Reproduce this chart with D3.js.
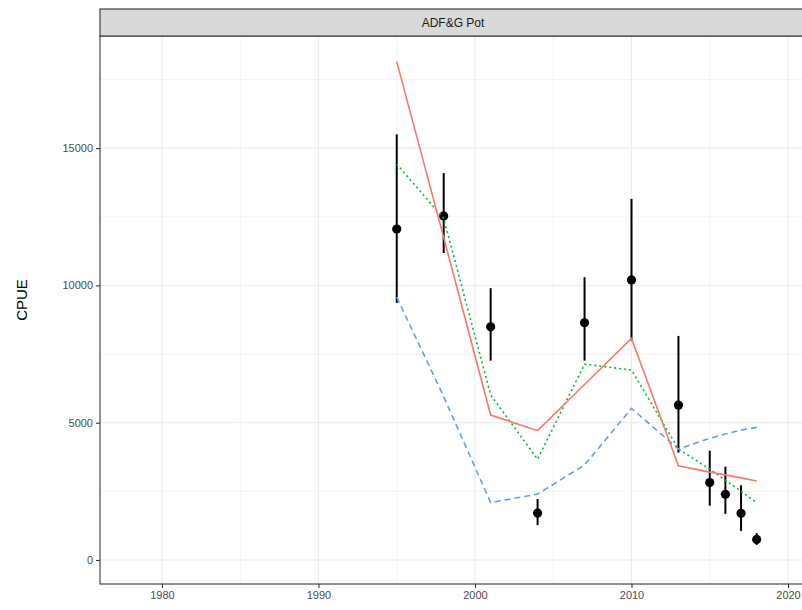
<!DOCTYPE html>
<html>
<head>
<meta charset="utf-8">
<script src="https://cdn.jsdelivr.net/npm/d3@7"></script>
<style>
body { margin: 0; background: #fff; }
svg { display: block; font-family: "Liberation Sans", Arial, sans-serif; }
</style>
</head>
<body>
<div id="chart"></div>
<script>
// values
let years = [1995, 1998, 2001, 2004, 2007, 2010, 2013, 2015, 2016, 2017, 2018];
let obs   = [12050, 12530, 8490, 1710, 8640, 10200, 5640, 2820, 2390, 1700, 750];
let obsLo = [9360, 11180, 7260, 1270, 7260, 7980, 3910, 1980, 1680, 1060, 550];
let obsHi = [15500, 14090, 9900, 2220, 10300, 13150, 8160, 3980, 3400, 2720, 980];
let fitRed   = [18150, 11750, 5280, 4710, 6390, 8070, 3430, 3200, 3100, 2990, 2880];
let fitGreen = [14420, 12440, 6010, 3670, 7130, 6920, 4040, 3310, 2900, 2500, 2090];
let fitBlue  = [9570, 5950, 2090, 2400, 3460, 5520, 4040, 4430, 4590, 4730, 4830];
let xTicks = [1980, 1990, 2000, 2010, 2020];
let xMinor = [1985, 1995, 2005, 2015];
let yTicks = [0, 5000, 10000, 15000];
let yMinor = [2500, 7500, 12500, 17500];
let stripLabel = "ADF&G Pot";

let width = 802, height = 610;
let margin = {left: 100, right: -4, top: 36, bottom: 26};
let stripTop = 9;

let svg = d3.select("#chart").append("svg")
    .attr("width", width).attr("height", height);

let x = d3.scaleLinear().domain([1976.04, 2021.15]).range([margin.left, width - margin.right]);
let y = d3.scaleLinear().domain([-874, 19082]).range([height - margin.bottom, margin.top]);

let panel = svg.append("g");
let x0 = margin.left, x1 = width - margin.right, y0 = margin.top, y1 = height - margin.bottom;

// grid
panel.selectAll(".ymin").data(yMinor).enter().append("line")
    .attr("x1", x0).attr("x2", x1).attr("y1", d => y(d)).attr("y2", d => y(d))
    .attr("stroke", "#ebebeb").attr("stroke-width", 0.6);
panel.selectAll(".xmin").data(xMinor).enter().append("line")
    .attr("y1", y0).attr("y2", y1).attr("x1", d => x(d)).attr("x2", d => x(d))
    .attr("stroke", "#ebebeb").attr("stroke-width", 0.6);
panel.selectAll(".ymaj").data(yTicks).enter().append("line")
    .attr("x1", x0).attr("x2", x1).attr("y1", d => y(d)).attr("y2", d => y(d))
    .attr("stroke", "#ebebeb").attr("stroke-width", 1.2);
panel.selectAll(".xmaj").data(xTicks).enter().append("line")
    .attr("y1", y0).attr("y2", y1).attr("x1", d => x(d)).attr("x2", d => x(d))
    .attr("stroke", "#ebebeb").attr("stroke-width", 1.2);

// error bars + points
let pts = years.map((d, i) => ({yr: d, v: obs[i], lo: obsLo[i], hi: obsHi[i]}));
panel.selectAll(".err").data(pts).enter().append("line")
    .attr("x1", d => x(d.yr)).attr("x2", d => x(d.yr))
    .attr("y1", d => y(d.lo)).attr("y2", d => y(d.hi))
    .attr("stroke", "#000").attr("stroke-width", 2);
panel.selectAll(".pt").data(pts).enter().append("circle")
    .attr("cx", d => x(d.yr)).attr("cy", d => y(d.v)).attr("r", 4.6)
    .attr("fill", "#000");

// fitted lines
let line = d3.line().x(d => x(d[0])).y(d => y(d[1]));
let series = [
    {vals: fitBlue, color: "#619CFF", dash: "6,4"},
    {vals: fitGreen, color: "#00BA38", dash: "2,3"},
    {vals: fitRed, color: "#F8766D", dash: null}
];
series.forEach(function(s){
    panel.append("path")
        .attr("d", line(years.map((yr, i) => [yr, s.vals[i]])))
        .attr("fill", "none")
        .attr("stroke", s.color)
        .attr("stroke-width", 1.6)
        .attr("stroke-dasharray", s.dash);
});

// panel border
panel.append("rect").attr("x", x0).attr("y", y0).attr("width", x1 - x0).attr("height", y1 - y0)
    .attr("fill", "none").attr("stroke", "#333").attr("stroke-width", 1.1);

// strip
svg.append("rect").attr("x", x0).attr("y", stripTop).attr("width", x1 - x0).attr("height", y0 - stripTop)
    .attr("fill", "#d9d9d9").attr("stroke", "#333").attr("stroke-width", 1.1);
svg.append("text").attr("x", (x0 + x1) / 2).attr("y", (stripTop + y0) / 2)
    .attr("text-anchor", "middle").attr("dominant-baseline", "central")
    .attr("font-size", 12).attr("fill", "#1a1a1a").text(stripLabel);

// axes
let xAxis = svg.append("g").attr("transform", "translate(0," + y1 + ")")
    .call(d3.axisBottom(x).tickValues(xTicks).tickFormat(d3.format("d")).tickSize(4).tickPadding(3));
let yAxis = svg.append("g").attr("transform", "translate(" + x0 + ",0)")
    .call(d3.axisLeft(y).tickValues(yTicks).tickFormat(d3.format("d")).tickSize(4).tickPadding(3));
[xAxis, yAxis].forEach(function(a){
    a.select(".domain").remove();
    a.selectAll(".tick line").attr("stroke", "#333").attr("stroke-width", 1.1);
    a.selectAll(".tick text").attr("fill", "#4d4d4d").attr("font-size", 11)
        .attr("font-family", "Liberation Sans, Arial, sans-serif");
});

svg.append("text")
    .attr("transform", "translate(27," + ((y0 + y1) / 2 - 10) + ") rotate(-90)")
    .attr("text-anchor", "middle").attr("font-size", 15).attr("fill", "#000")
    .text("CPUE");
</script>
</body>
</html>
